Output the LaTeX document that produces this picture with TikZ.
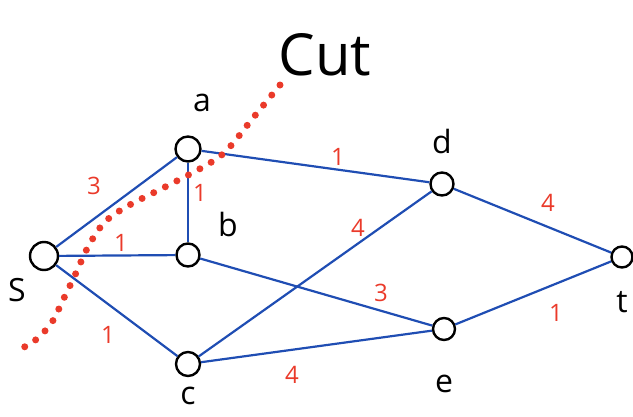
\documentclass[tikz,border=0pt]{standalone}
\usepackage{fontspec}
\setmainfont{Open Sans}
\begin{document}
\begin{tikzpicture}[x=1pt,y=-1pt,
  vtx/.style={circle,draw=black,line width=2.4pt,fill=white,inner sep=0pt},
  edge/.style={draw=edgeblue,line width=2.2pt},
  nlab/.style={font=\fontsize{32}{34}\selectfont,text=black,inner sep=0pt},
  wlab/.style={font=\fontsize{24}{26}\selectfont,text=cutred,inner sep=0pt}]
\definecolor{edgeblue}{HTML}{1F4DB3}
\definecolor{cutred}{HTML}{EA3A2A}
\useasboundingbox (0,0) rectangle (633,416);
\coordinate (ps) at (44,256);
\coordinate (pa) at (188,149);
\coordinate (pb) at (188,255);
\coordinate (pc) at (188,364);
\coordinate (pd) at (442,184);
\coordinate (pe) at (444,329);
\coordinate (pt) at (622,257);
\node[vtx,minimum size=28pt] (s) at (ps) {};
\node[vtx,minimum size=25pt] (a) at (pa) {};
\node[vtx,minimum size=23pt] (b) at (pb) {};
\node[vtx,minimum size=24pt] (c) at (pc) {};
\node[vtx,minimum size=23pt] (d) at (pd) {};
\node[vtx,minimum size=22pt] (e) at (pe) {};
\node[vtx,minimum size=21pt] (t) at (pt) {};
\draw[edge] (s) -- (a);
\draw[edge] (s) -- (b);
\draw[edge] (s) -- (c);
\draw[edge] (a) -- (b);
\draw[edge] (a) -- (d);
\draw[edge] (b) -- (e);
\draw[edge] (c) -- (d);
\draw[edge] (c) -- (e);
\draw[edge] (d) -- (t);
\draw[edge] (e) -- (t);
% node labels
\node[nlab] (la) at (202,103) {a};
\node[nlab] (lb) at (228,224) {b};
\node[nlab] (ls) at (17,290) {S};
\node[nlab] (lc) at (188,396) {c};
\node[nlab] (ld) at (442,141) {d};
\node[nlab] (le) at (444,384) {e};
\node[nlab] (lt) at (622,302) {t};
% weights
\node[wlab] (w1) at (94,186) {3};
\node[wlab] (w2) at (200,193) {1};
\node[wlab] (w3) at (121,243) {1};
\node[wlab] (w4) at (108,335) {1};
\node[wlab] (w5) at (338,157) {1};
\node[wlab] (w6) at (358,228) {4};
\node[wlab] (w7) at (381,293) {3};
\node[wlab] (w8) at (292,375) {4};
\node[wlab] (w9) at (548,203) {4};
\node[wlab] (w10) at (556,313) {1};
% cut
\draw[cutred,line width=7pt,line cap=round,dash pattern=on 0pt off 13pt]
  plot[smooth,tension=0.6] coordinates {(280,85) (253,118) (226,151) (203,167) (165,187) (126,207) (104,223) (88,247) (76,273) (63,300) (50,325) (29,345) (16,347)};
\node[font=\fontsize{58}{62}\selectfont,inner sep=0pt] (cut) at (325,55) {Cut};
\end{tikzpicture}
\end{document}
